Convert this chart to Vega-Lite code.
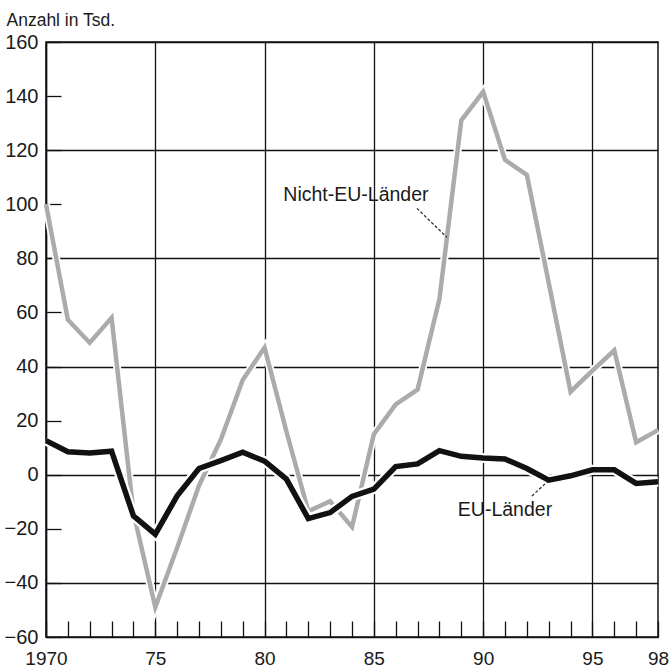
{
  "$schema": "https://vega.github.io/schema/vega-lite/v6.json",
  "width": 612,
  "height": 595,
  "autosize": {"type": "none"},
  "padding": {"left": 46, "top": 42, "right": 13, "bottom": 32},
  "background": "white",
  "config": {
    "view": {"stroke": "#111", "strokeWidth": 1.5},
    "font": "Liberation Sans"
  },
  "datasets": {
    "series": [
      {"year": 1970, "eu": 12.6, "neu": 100},
      {"year": 1971, "eu": 8.5, "neu": 57.3},
      {"year": 1972, "eu": 8.0, "neu": 48.8},
      {"year": 1973, "eu": 8.7, "neu": 58},
      {"year": 1974, "eu": -15.2, "neu": -14},
      {"year": 1975, "eu": -22, "neu": -49},
      {"year": 1976, "eu": -7.8, "neu": -27},
      {"year": 1977, "eu": 2.3, "neu": -4},
      {"year": 1978, "eu": 5.2, "neu": 13},
      {"year": 1979, "eu": 8.3, "neu": 35},
      {"year": 1980, "eu": 5.0, "neu": 47},
      {"year": 1981, "eu": -1.6, "neu": 16},
      {"year": 1982, "eu": -16.2, "neu": -13.5},
      {"year": 1983, "eu": -14, "neu": -9.8},
      {"year": 1984, "eu": -8, "neu": -19.3},
      {"year": 1985, "eu": -5.3, "neu": 15},
      {"year": 1986, "eu": 3, "neu": 26},
      {"year": 1987, "eu": 4, "neu": 31.5},
      {"year": 1988, "eu": 8.9, "neu": 65},
      {"year": 1989, "eu": 6.8, "neu": 131},
      {"year": 1990, "eu": 6.2, "neu": 141.6},
      {"year": 1991, "eu": 5.8, "neu": 116.4},
      {"year": 1992, "eu": 2.3, "neu": 110.9},
      {"year": 1993, "eu": -2, "neu": 71},
      {"year": 1994, "eu": -0.4, "neu": 30.7},
      {"year": 1995, "eu": 1.8, "neu": 38.5},
      {"year": 1996, "eu": 1.8, "neu": 46},
      {"year": 1997, "eu": -3.2, "neu": 12},
      {"year": 1998, "eu": -2.6, "neu": 16.5}
    ],
    "labels": [
      {"year": 1984.18, "value": 103.3, "text": "Nicht-EU-Länder"},
      {"year": 1991.0, "value": -13.1, "text": "EU-Länder"}
    ],
    "leaders": [
      {"year": 1986.97, "value": 98.5, "year2": 1988.34, "value2": 87.8},
      {"year": 1992.23, "value": -7.9, "year2": 1992.96, "value2": -2.4}
    ]
  },
  "encoding": {
    "x": {
      "field": "year",
      "type": "quantitative",
      "scale": {"domain": [1970, 1998], "nice": false, "zero": false},
      "axis": {
        "title": null,
        "values": [1970,1971,1972,1973,1974,1975,1976,1977,1978,1979,1980,1981,1982,1983,1984,1985,1986,1987,1988,1989,1990,1991,1992,1993,1994,1995,1996,1997,1998],
        "labelExpr": "datum.value == 1970 ? '1970' : (datum.value % 5 == 0 || datum.value == 1998) ? slice(toString(datum.value), 2) : ''",
        "tickSize": -16,
        "tickColor": "#111",
        "tickWidth": 1.3,
        "labelPadding": 28,
        "labelFontSize": 19,
        "labelColor": "#1a1a1a",
        "labelFont": "Liberation Sans",
        "labelFlush": false,
        "labelOverlap": false,
        "domainColor": "#111",
        "domainWidth": 1.5,
        "grid": true,
        "gridColor": "#111",
        "gridWidth": 1.3,
        "gridOpacity": {"condition": {"test": "datum.value % 5 === 0", "value": 1}, "value": 0}
      }
    },
    "y": {
      "field": "neu",
      "type": "quantitative",
      "scale": {"domain": [-60, 160], "nice": false, "zero": false},
      "axis": {
        "title": "Anzahl in Tsd.",
        "titleAngle": 0,
        "titleAlign": "left",
        "titleBaseline": "alphabetic",
        "titleX": -40,
        "titleY": -17,
        "titleFontSize": 17.5,
        "titleFontWeight": "normal",
        "titleColor": "#1a1a1a",
        "titleFont": "Liberation Sans",
        "values": [-60,-40,-20,0,20,40,60,80,100,120,140,160],
        "tickSize": -15,
        "tickColor": "#111",
        "tickWidth": 1.3,
        "labelPadding": 23,
        "labelFontSize": 20,
        "labelColor": "#1a1a1a",
        "labelFont": "Liberation Sans",
        "labelFlush": false,
        "labelOverlap": false,
        "domainColor": "#111",
        "domainWidth": 1.5,
        "grid": true,
        "gridColor": "#111",
        "gridWidth": 1.3,
        "gridOpacity": {"condition": {"test": "datum.value % 40 === 0", "value": 1}, "value": 0}
      }
    }
  },
  "layer": [
    {
      "data": {"name": "series"},
      "mark": {"type": "line", "color": "white", "strokeWidth": 8, "strokeJoin": "miter"},
      "encoding": {"y": {"field": "neu", "type": "quantitative"}}
    },
    {
      "data": {"name": "series"},
      "mark": {"type": "line", "color": "#ababab", "strokeWidth": 4.5, "strokeJoin": "miter"},
      "encoding": {"y": {"field": "neu", "type": "quantitative"}}
    },
    {
      "data": {"name": "series"},
      "mark": {"type": "line", "color": "white", "strokeWidth": 10, "strokeJoin": "miter"},
      "encoding": {"y": {"field": "eu", "type": "quantitative"}}
    },
    {
      "data": {"name": "series"},
      "mark": {"type": "line", "color": "#111", "strokeWidth": 5.5, "strokeJoin": "miter"},
      "encoding": {"y": {"field": "eu", "type": "quantitative"}}
    },
    {
      "data": {"name": "leaders"},
      "mark": {"type": "rule", "color": "#222", "strokeWidth": 1.2, "strokeDash": [3, 2]},
      "encoding": {
        "y": {"field": "value", "type": "quantitative"},
        "x2": {"field": "year2"},
        "y2": {"field": "value2"}
      }
    },
    {
      "data": {"name": "labels"},
      "mark": {"type": "text", "fontSize": 19.5, "font": "Liberation Sans", "color": "#1a1a1a", "align": "center", "baseline": "middle"},
      "encoding": {
        "y": {"field": "value", "type": "quantitative"},
        "text": {"field": "text"}
      }
    }
  ]
}
